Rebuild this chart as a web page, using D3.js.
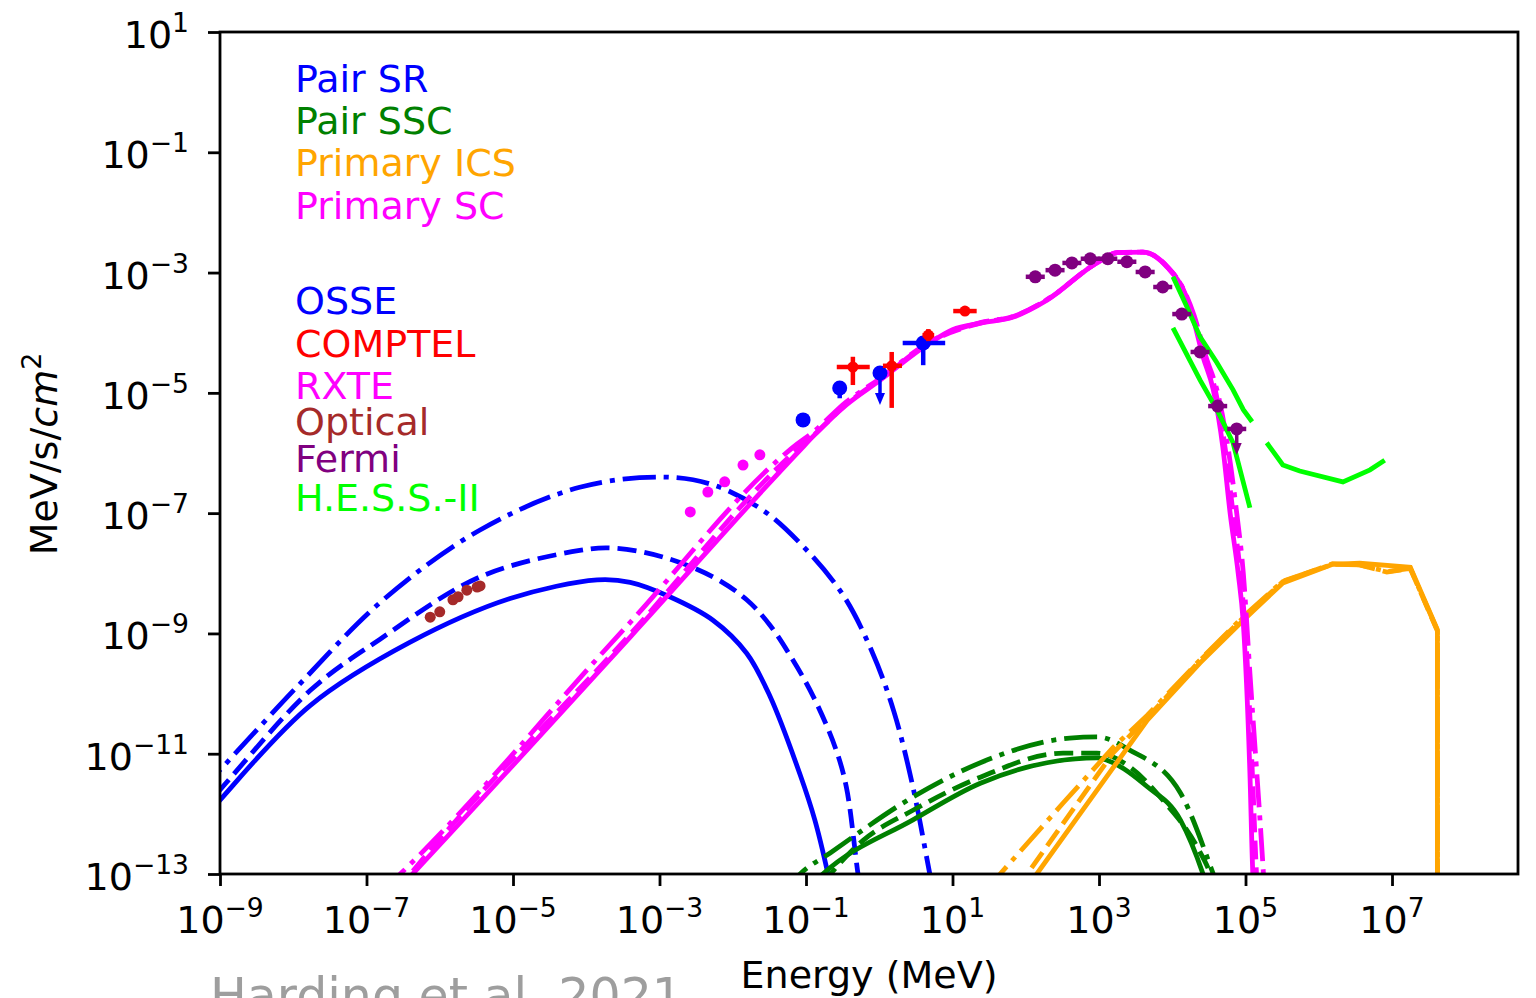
<!DOCTYPE html>
<html>
<head>
<meta charset="utf-8">
<script src="https://cdn.jsdelivr.net/npm/d3@7"></script>
<style>
  body { margin: 0; background: #fff; }
  text { font-family: "DejaVu Sans", sans-serif; }
</style>
</head>
<body>
<script>
// all values are log10(E / MeV), log10(flux)
var xTickExp = [-9, -7, -5, -3, -1, 1, 3, 5, 7];
var yTickExp = [1, -1, -3, -5, -7, -9, -11, -13];

// Pair SR (blue)
var srSolid = [[-9.3,-12.2],[-9,-11.77],[-7.77,-10.2],[-6.41,-9.15],[-5.04,-8.42],[-3.85,-8.11],[-3.4,-8.15],[-2.86,-8.39],[-2.27,-8.78],[-1.81,-9.33],[-1.49,-10.05],[-1.08,-11.35],[-0.88,-12.1],[-0.7,-13],[-0.6,-13.6]];
var srDashed = [[-9.3,-12.0],[-9,-11.6],[-7.77,-9.95],[-6.82,-9.1],[-5.45,-8.06],[-4.09,-7.62],[-3.63,-7.58],[-2.95,-7.73],[-2.27,-8.06],[-1.81,-8.44],[-1.5,-8.85],[-1.2,-9.4],[-0.9,-10.05],[-0.6,-10.9],[-0.45,-11.55],[-0.29,-13],[-0.2,-13.7]];
var srDashDot = [[-9.3,-11.66],[-9,-11.27],[-7.95,-9.89],[-6.77,-8.44],[-5.45,-7.28],[-4.09,-6.57],[-2.95,-6.4],[-2.27,-6.53],[-1.59,-6.95],[-1.08,-7.5],[-0.5,-8.35],[-0.1,-9.3],[0.2,-10.3],[0.45,-11.5],[0.69,-13],[0.8,-13.7]];

// Pair SSC (green)
var sscSolid = [[-1.1,-13.4],[-0.77,-13],[0.46,-12.1],[1.38,-11.49],[2.29,-11.15],[2.97,-11.07],[3.19,-11.15],[3.66,-11.55],[4.11,-12.1],[4.42,-13],[4.5,-13.3]];
var sscDashed = [[-1.0,-13.5],[-0.22,-12.44],[0.46,-11.94],[1.38,-11.39],[2.51,-10.99],[2.97,-10.99],[3.42,-11.22],[3.87,-11.77],[4.34,-12.55],[4.52,-13],[4.6,-13.3]];
var sscDashDot = [[-1.3,-13.3],[-1.08,-13],[-0.67,-12.65],[0.46,-11.72],[1.38,-11.15],[2.6,-10.74],[2.97,-10.72],[3.42,-10.94],[4.11,-11.65],[4.56,-13],[4.65,-13.3]];

// Primary ICS (orange)
var icsSolid = [[2.0,-13.25],[2.15,-13],[3.0,-11.56],[3.66,-10.44],[4.38,-9.49],[4.97,-8.78],[5.51,-8.16],[6.19,-7.85],[6.56,-7.83],[7.25,-7.9],[7.62,-8.94],[7.62,-14]];
var icsDashed = [[1.85,-13.25],[2.02,-13],[3.19,-10.99],[3.66,-10.4],[4.38,-9.45],[4.97,-8.74],[5.51,-8.14],[6.19,-7.84],[6.56,-7.86],[6.93,-7.98],[7.25,-7.92],[7.62,-8.96],[7.62,-14]];
var icsDashDot = [[1.45,-13.3],[1.65,-13],[2.51,-11.82],[3.19,-10.9],[3.66,-10.36],[4.38,-9.44],[4.97,-8.72],[5.51,-8.13],[6.19,-7.85],[6.56,-7.86],[6.93,-7.97],[7.25,-7.92],[7.62,-8.95],[7.62,-14]];

// Primary SC (magenta)
var scSolid = [[-6.6,-13.3],[-6.37,-13],[-3.4,-9.06],[-1.08,-5.95],[-0.9,-5.72],[-0.45,-5.2],[0.01,-4.79],[0.69,-4.17],[1.0,-3.95],[1.38,-3.84],[1.83,-3.74],[2.29,-3.46],[2.97,-2.84],[3.25,-2.67],[3.6,-2.66],[3.93,-2.91],[4.15,-3.29],[4.28,-3.74],[4.42,-4.4],[4.56,-4.95],[4.69,-5.9],[4.79,-7.0],[4.9,-8.0],[4.97,-8.83],[5.06,-11.32],[5.1,-13],[5.12,-13.4]];
var scDashed = [[-6.6,-13.3],[-6.4,-13],[-3.42,-9.04],[-1.1,-5.92],[-0.9,-5.71],[-0.45,-5.19],[0.01,-4.78],[0.69,-4.16],[1.38,-3.84],[1.83,-3.73],[2.29,-3.45],[2.97,-2.84],[3.25,-2.67],[3.6,-2.66],[3.93,-2.9],[4.15,-3.28],[4.29,-3.73],[4.44,-4.4],[4.59,-4.97],[4.72,-5.9],[4.83,-7.0],[4.93,-8.0],[5.0,-9.0],[5.1,-11.5],[5.15,-13],[5.17,-13.4]];
var scDashDot = [[-6.8,-13.3],[-6.54,-13],[-3.5,-8.95],[-1.12,-5.85],[-0.9,-5.65],[-0.45,-5.15],[0.01,-4.76],[0.69,-4.15],[1.38,-3.83],[1.83,-3.73],[2.29,-3.45],[2.97,-2.84],[3.25,-2.67],[3.6,-2.66],[3.93,-2.9],[4.15,-3.27],[4.3,-3.72],[4.46,-4.4],[4.62,-5.0],[4.76,-5.9],[4.88,-7.0],[4.97,-8.0],[5.06,-9.66],[5.24,-12.9],[5.26,-13.3]];

// H.E.S.S.-II sensitivity (lime)
var hessUpperA = [[4.01,-3.07],[4.2,-3.57],[4.38,-4.07],[4.61,-4.5],[4.83,-4.95],[4.97,-5.28],[5.09,-5.48]];
var hessUpperB = [[5.29,-5.83],[5.51,-6.2],[5.74,-6.3],[6.33,-6.48],[6.7,-6.28],[6.9,-6.12]];
var hessLower = [[4.01,-3.92],[4.38,-4.79],[4.61,-5.28],[4.83,-5.83],[5.06,-6.91]];

// data points: [logE, logF, dxLo, dxHi, dyLo, dyHi]
var optical = [[-6.13,-8.73],[-6.0,-8.64],[-5.82,-8.44],[-5.75,-8.39],[-5.63,-8.28],[-5.49,-8.23],[-5.45,-8.21]];
var rxte = [[-2.58,-6.98],[-2.34,-6.65],[-2.11,-6.48],[-1.86,-6.2],[-1.63,-6.03]];
var osse = [[-1.04,-5.45,0,0,0.05,0.05],[-0.54,-4.92,0,0,0.17,0.05],[0.01,-4.67,0,0,0,0],[0.6,-4.17,0.28,0.3,0.37,0.1]];
var osseUL = [[0.01,-4.67,0.5]];
var comptel = [[-0.36,-4.57,0.22,0.23,0.3,0.17],[0.17,-4.55,0.12,0.14,0.7,0.23],[0.67,-4.04,0.08,0.08,0.1,0.1],[1.17,-3.64,0.16,0.16,0.03,0.03]];
var fermi = [[2.13,-3.07],[2.4,-2.96],[2.63,-2.84],[2.88,-2.77],[3.12,-2.77],[3.38,-2.82],[3.63,-2.99],[3.87,-3.24],[4.13,-3.69],[4.38,-4.32],[4.62,-5.22],[4.88,-5.6]];
var fermiUL = [[4.88,-5.6,0.4]];

var legendModels = ['Pair SR', 'Pair SSC', 'Primary ICS', 'Primary SC'];
var legendData = ['OSSE', 'COMPTEL', 'RXTE', 'Optical', 'Fermi', 'H.E.S.S.-II'];

var p = function (v) { return Math.pow(10, v); };

var W = 1536, H = 998;
var L = 220, T = 32, R = 1518, B = 874;

var x = d3.scaleLog().domain([1e-9, p(8.72)]).range([L, R]);
var y = d3.scaleLog().domain([1e-13, 10]).range([B, T]);

var svg = d3.select('body').append('svg')
    .attr('width', W)
    .attr('height', H);

svg.append('defs').append('clipPath').attr('id', 'plot')
    .append('rect').attr('x', L).attr('y', T).attr('width', R - L).attr('height', B - T);

var line = d3.line()
    .x(function (d) { return x(p(d[0])); })
    .y(function (d) { return y(p(d[1])); });

var lw = 4.8;
var styles = { solid: null, dashed: '19,8', dashdot: '33,8,5,8' };
var smooth = d3.curveCatmullRom.alpha(0.5);

var curves = [
    [srSolid, '#0000ff', 'solid', smooth], [srDashed, '#0000ff', 'dashed', smooth], [srDashDot, '#0000ff', 'dashdot', smooth],
    [sscSolid, '#008000', 'solid', d3.curveMonotoneX], [sscDashed, '#008000', 'dashed', d3.curveMonotoneX], [sscDashDot, '#008000', 'dashdot', d3.curveMonotoneX],
    [icsSolid, '#ffa500', 'solid', d3.curveLinear], [icsDashed, '#ffa500', 'dashed', d3.curveLinear], [icsDashDot, '#ffa500', 'dashdot', d3.curveLinear],
    [scSolid, '#ff00ff', 'solid', d3.curveMonotoneX], [scDashed, '#ff00ff', 'dashed', d3.curveMonotoneX], [scDashDot, '#ff00ff', 'dashdot', d3.curveMonotoneX],
    [hessUpperA, '#00ff00', 'solid', d3.curveLinear], [hessUpperB, '#00ff00', 'solid', d3.curveLinear], [hessLower, '#00ff00', 'solid', d3.curveLinear]
];

var gl = svg.append('g').attr('clip-path', 'url(#plot)');
curves.forEach(function (c) {
    line.curve(c[3]);
    gl.append('path')
        .attr('d', line(c[0]))
        .attr('fill', 'none')
        .attr('stroke', c[1])
        .attr('stroke-width', lw)
        .attr('stroke-dasharray', styles[c[2]]);
});

// error bars + markers
function points(data, color, r) {
    var g = svg.append('g');
    data.forEach(function (d) {
        var cx = x(p(d[0])), cy = y(p(d[1]));
        if (d.length > 2) {
            if (d[2] || d[3]) {
                g.append('line')
                    .attr('x1', x(p(d[0] - d[2]))).attr('x2', x(p(d[0] + d[3])))
                    .attr('y1', cy).attr('y2', cy)
                    .attr('stroke', color).attr('stroke-width', 4.5);
            }
            if (d[4] || d[5]) {
                g.append('line')
                    .attr('x1', cx).attr('x2', cx)
                    .attr('y1', y(p(d[1] - d[4]))).attr('y2', y(p(d[1] + d[5])))
                    .attr('stroke', color).attr('stroke-width', 4.5);
            }
        }
        g.append('circle')
            .attr('cx', cx).attr('cy', cy).attr('r', r)
            .attr('fill', color);
    });
}

function arrows(data, color) {
    data.forEach(function (d) {
        var cx = x(p(d[0])), y0 = y(p(d[1])), y1 = y(p(d[1] - d[2]));
        svg.append('line')
            .attr('x1', cx).attr('x2', cx).attr('y1', y0).attr('y2', y1 - 8)
            .attr('stroke', color).attr('stroke-width', 3.5);
        svg.append('path')
            .attr('d', 'M' + (cx - 5) + ',' + (y1 - 10) + 'L' + (cx + 5) + ',' + (y1 - 10) + 'L' + cx + ',' + (y1 + 2) + 'Z')
            .attr('fill', color);
    });
}

points(optical, '#a52a2a', 5.5);
points(rxte, '#ff00ff', 5.5);
points(osse, '#0000ff', 7.5);
arrows(osseUL, '#0000ff');
points(comptel, '#ff0000', 5.5);
var fermiErr = fermi.map(function (d) { return [d[0], d[1], 0.13, 0.13, 0.07, 0.07]; });
points(fermiErr, '#800080', 6.5);
arrows(fermiUL, '#800080');

// frame
svg.append('rect')
    .attr('x', L).attr('y', T).attr('width', R - L).attr('height', B - T)
    .attr('fill', 'none').attr('stroke', '#000').attr('stroke-width', 2.8);

// axes
var xAxis = d3.axisBottom(x).tickValues(xTickExp.map(p)).tickSize(12).tickFormat('');
var yAxis = d3.axisLeft(y).tickValues(yTickExp.map(p)).tickSize(12).tickFormat('');

var gx = svg.append('g').attr('transform', 'translate(0,' + B + ')').call(xAxis);
var gy = svg.append('g').attr('transform', 'translate(' + L + ',0)').call(yAxis);
[gx, gy].forEach(function (g) {
    g.select('.domain').remove();
    g.selectAll('.tick line').attr('stroke', '#000').attr('stroke-width', 2.8);
});

function expLabel(sel, e) {
    sel.append('tspan').text('10');
    sel.append('tspan')
        .attr('dy', -16)
        .attr('font-size', 26.6)
        .text(e < 0 ? '\u2212' + (-e) : '' + e);
}

xTickExp.forEach(function (e) {
    var t = svg.append('text')
        .attr('x', x(p(e)))
        .attr('y', 933)
        .attr('text-anchor', 'middle')
        .attr('font-size', 38)
        .attr('fill', '#000');
    expLabel(t, e);
});

yTickExp.forEach(function (e) {
    var t = svg.append('text')
        .attr('x', 189)
        .attr('y', y(p(e)) + 16)
        .attr('text-anchor', 'end')
        .attr('font-size', 38)
        .attr('fill', '#000');
    expLabel(t, e);
});

// axis labels
svg.append('text')
    .attr('x', (L + R) / 2)
    .attr('y', 988)
    .attr('text-anchor', 'middle')
    .attr('font-size', 38)
    .text('Energy (MeV)');

var yl = svg.append('text')
    .attr('transform', 'translate(57,454) rotate(-90)')
    .attr('text-anchor', 'middle')
    .attr('font-size', 38);
yl.append('tspan').text('MeV/s/');
yl.append('tspan').attr('font-style', 'italic').text('cm');
yl.append('tspan').attr('dy', -16).attr('font-size', 27).text('2');

// legend texts
var modelColors = ['#0000ff', '#008000', '#ffa500', '#ff00ff'];
var modelY = [92, 134, 176, 219];
legendModels.forEach(function (name, i) {
    svg.append('text')
        .attr('x', 295).attr('y', modelY[i])
        .attr('font-size', 38)
        .attr('fill', modelColors[i])
        .text(name);
});

var dataColors = ['#0000ff', '#ff0000', '#ff00ff', '#a52a2a', '#800080', '#00ff00'];
var dataY = [314, 357, 399, 435, 472, 511];
legendData.forEach(function (name, i) {
    svg.append('text')
        .attr('x', 295).attr('y', dataY[i])
        .attr('font-size', 38)
        .attr('fill', dataColors[i])
        .text(name);
});

// caption cut by the bottom edge
svg.append('text')
    .attr('x', 210)
    .attr('y', 1013)
    .attr('font-family', 'Roboto')
    .attr('font-size', 49)
    .attr('fill', '#9e9e9e')
    .text('Harding et al. 2021');
</script>
</body>
</html>
